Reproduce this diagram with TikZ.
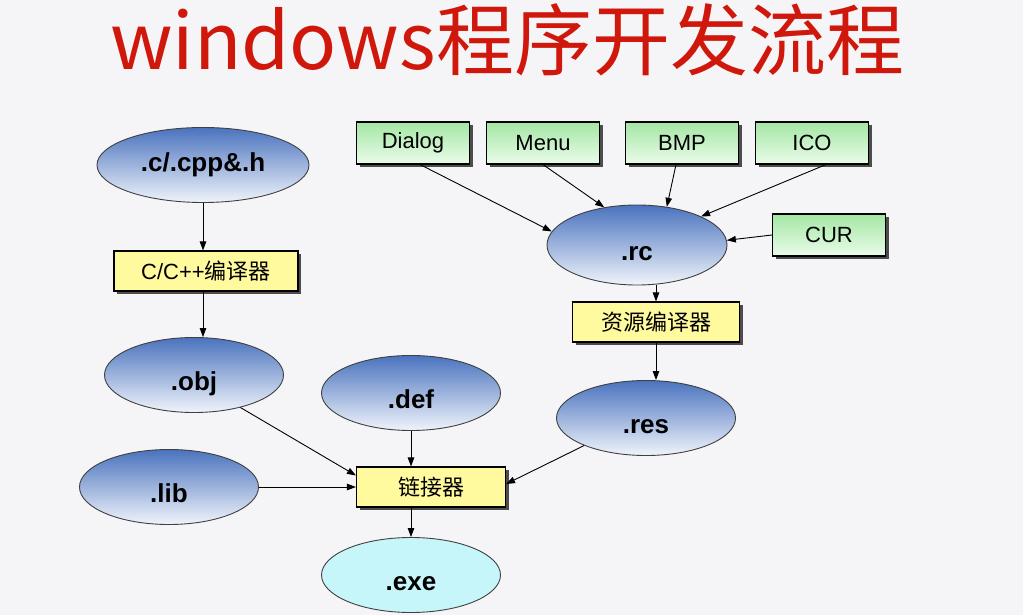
\documentclass[tikz,border=0pt]{standalone}
\usepackage{fontspec}
\setmainfont{Liberation Sans}
\newfontfamily\cjk{Noto Sans CJK SC}
\usetikzlibrary{positioning,arrows.meta,shapes.geometric,shadows}
\definecolor{ctitle}{HTML}{D0170C}
\definecolor{cbg}{HTML}{F5F5F7}
\definecolor{ctop}{HTML}{4A73BE}
\definecolor{cmidb}{HTML}{B4C8E8}
\definecolor{cbot}{HTML}{F0F4FB}
\definecolor{cexe}{HTML}{C6F6FA}
\definecolor{cyel}{HTML}{FFFA9E}
\definecolor{cgtop}{HTML}{A4E6A4}
\definecolor{cgbot}{HTML}{EAFCEA}
\tikzset{
  filebase/.style={ellipse, draw=black!75, line width=0.9pt, inner sep=0pt,
    minimum width=179pt, minimum height=75pt,
    font=\fontsize{26}{30}\selectfont\bfseries},
  filenode/.style={filebase, top color=ctop, middle color=cmidb, bottom color=cbot},
  exenode/.style={filebase, fill=cexe},
  lowtext/.style={text height=32pt, text depth=2pt},
  toolbox/.style={rectangle, draw=black, line width=1.1pt, fill=cyel,
    minimum height=40pt, font=\fontsize{22}{26}\selectfont,
    drop shadow={shadow xshift=3pt, shadow yshift=-3pt, fill=black!70, opacity=1}},
  resbox/.style={rectangle, draw=black, line width=1.1pt,
    top color=cgtop, bottom color=cgbot,
    minimum width=113pt, minimum height=42pt, font=\fontsize{22}{26}\selectfont,
    drop shadow={shadow xshift=3pt, shadow yshift=-3pt, fill=black!70, opacity=1}},
  flowarrow/.style={-{Triangle[length=9pt,width=6.5pt]}, line width=0.9pt, black}
}
\begin{document}
\begin{tikzpicture}[x=1pt, y=-1pt]
  \useasboundingbox (0,0) rectangle (1023,615);
  \fill[cbg] (0,0) rectangle (1023,615);

  % title
  \node[text=ctitle, font=\fontsize{78}{84}\selectfont\cjk] (title) at (507,40) {windows程序开发流程};

  % source side
  \node[filenode, minimum width=212pt] (cpp) at (203,165) {.c/.cpp\&.h};
  \node[toolbox, minimum width=184pt] (ccomp) at (206,271) {C/C++{\cjk 编译器}};
  \node[filenode, lowtext] (obj) at (194,375) {.obj};
  \node[filenode, lowtext] (def) at (411,393) {.def};
  \node[filenode, lowtext] (lib) at (169,487) {.lib};
  \node[toolbox, minimum width=149pt] (link) at (431,487) {\cjk 链接器};
  \node[exenode, lowtext] (exe) at (411,575) {.exe};

  % resource side
  \node[resbox] (dialog) at (413,143) {Dialog};
  \node[resbox] (menu) at (543,143) {Menu};
  \node[resbox] (bmp) at (682,143) {BMP};
  \node[resbox] (ico) at (812,143) {ICO};
  \node[resbox] (cur) at (829,235) {CUR};
  \node[filenode, lowtext, minimum width=180pt, minimum height=80pt] (rc) at (637,245) {.rc};
  \node[toolbox, minimum width=167pt] (rescomp) at (656,322) {\cjk 资源编译器};
  \node[filenode, lowtext] (res) at (646,418) {.res};

  \draw[flowarrow] (cpp.south) -- (cpp.south |- ccomp.north);
  \draw[flowarrow] (cpp.south |- ccomp.south) -- (cpp.south |- obj.north);
  \draw[flowarrow] (obj.-35) -- ([yshift=-9pt]link.north west);
  \draw[flowarrow] (lib.east) -- (lib.east -| link.west);
  \draw[flowarrow] (def.south) -- (def.south |- link.north);
  \draw[flowarrow] (def.south |- link.south) -- (def.south |- exe.north);
  \draw[flowarrow] (res.204) -- ([yshift=3pt]link.east);

  \draw[flowarrow] ([xshift=7pt]dialog.south) -- (rc.171);
  \draw[flowarrow] (menu.south) -- (rc.131);
  \draw[flowarrow] ([xshift=-6pt]bmp.south) -- (rc.52);
  \draw[flowarrow] ([xshift=14pt]ico.south) -- (rc.24);
  \draw[flowarrow] (cur.west) -- (rc.3);
  \draw[flowarrow] (rescomp.north |- rc.south) -- (rescomp.north);
  \draw[flowarrow] (rescomp.south) -- (rescomp.south |- res.north);
\end{tikzpicture}
\end{document}
